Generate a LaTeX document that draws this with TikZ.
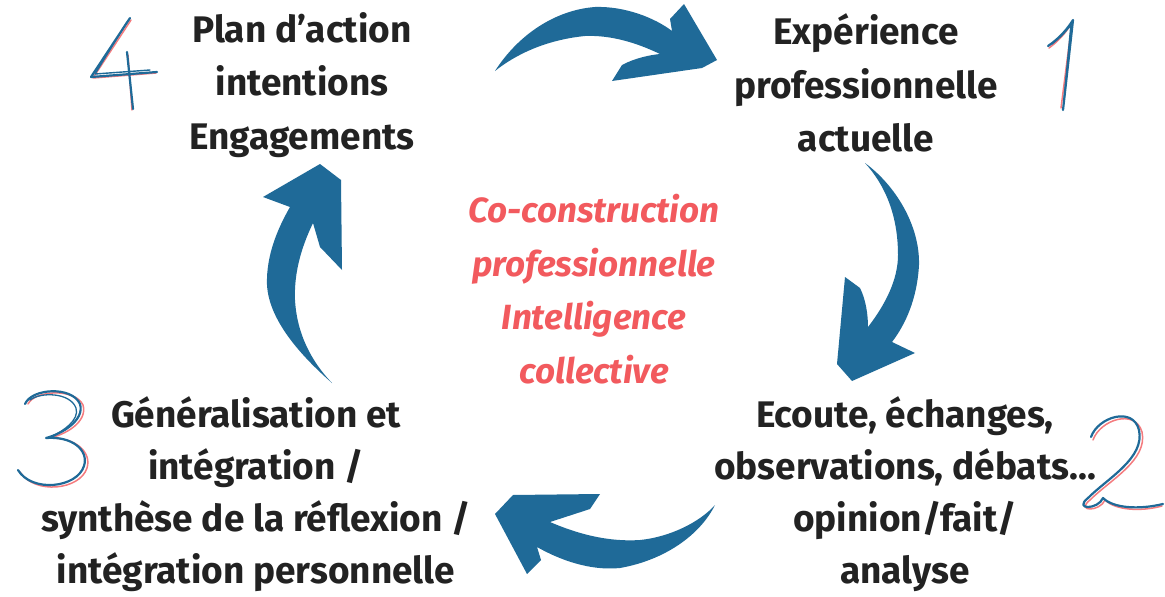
\documentclass[tikz,border=0pt]{standalone}
\usepackage{fontspec}
\setmainfont{Fira Sans}
\definecolor{bleu}{HTML}{1F6A98}
\definecolor{rouge}{HTML}{F25A5E}
\definecolor{encre}{HTML}{222222}
\tikzset{
  etape/.style={align=center,text=encre,font=\fontsize{37}{53.5}\selectfont\bfseries},
  bas/.style={etape,font=\fontsize{37}{52}\selectfont\bfseries},
  centre/.style={align=center,text=rouge,font=\fontsize{35}{53.5}\selectfont\bfseries\itshape},
  fleche/.style={fill=bleu,draw=none},
  chiffreb/.style={draw=bleu,line width=2.2pt,line cap=round,line join=round},
  chiffrer/.style={draw=rouge,line width=1.5pt,line cap=round,line join=round,opacity=.8}
}
\begin{document}
\begin{tikzpicture}[x=1pt,y=-1pt]
\useasboundingbox[fill=white] (0,0) rectangle (1165,597);

\node[etape] (plan) at (302,85) {Plan d’action\\intentions\\Engagements};
\node[etape] (exp) at (866,83) {Expérience\\professionnelle\\actuelle};
\node[bas] (ecoute) at (905,494) {Ecoute, échanges,\\observations, débats...\\opinion/fait/\\analyse};
\node[bas] (gene) at (256,494) {Généralisation et\\intégration /\\synthèse de la réflexion /\\intégration personnelle};
\node[centre] (coco) at (594,289) {Co-construction\\professionnelle\\Intelligence\\collective};

% fleche haut
\fill[fleche] (495,71) .. controls (518,35) and (555,10) .. (595,7)
  .. controls (625,6) and (655,18) .. (672,31) -- (670,19) -- (684,4)
  -- (717,60) -- (702,68) -- (612,81) -- (622,65)
  .. controls (635,58) and (650,55) .. (660,54)
  .. controls (635,42) and (610,35) .. (585,36)
  .. controls (545,40) and (515,55) .. cycle;
% fleche droite
\fill[fleche] (865,163) .. controls (895,185) and (920,225) .. (919,265)
  .. controls (917,300) and (905,325) .. (892,342) -- (915,353)
  -- (852,381) -- (837,364) -- (845,277) -- (860,288)
  .. controls (866,300) and (868,315) .. (868,327)
  .. controls (885,305) and (898,280) .. (898,255)
  .. controls (898,215) and (885,185) .. cycle;
% fleche bas
\fill[fleche] (715,505) .. controls (700,535) and (665,560) .. (620,568)
  .. controls (590,571) and (560,560) .. (537,547) -- (541,560)
  -- (527,574) -- (495,514) -- (513,495) -- (600,494) -- (590,509)
  -- (550,522) .. controls (580,535) and (610,542) .. (640,540)
  .. controls (670,537) and (700,522) .. cycle;
% fleche gauche
\fill[fleche] (332,383) .. controls (300,355) and (269,320) .. (267,285)
  .. controls (266,255) and (278,228) .. (290,207) -- (263,197)
  -- (320,164) -- (341,180) -- (342,270) -- (320,247) -- (313,223)
  .. controls (300,250) and (294,275) .. (295,300)
  .. controls (297,335) and (312,362) .. cycle;

% 4
\draw[chiffrer] (131,20) -- (93,78) -- (156,73) (128,55) -- (132,110);
\draw[chiffreb] (130,18) -- (91,77) -- (157,72) (127,52) -- (133,109);
\draw[chiffreb,line width=1.4pt] (127,22) -- (95,74) -- (150,70);
% 1
\draw[chiffrer] (1049,48) .. controls (1060,40) and (1068,30) .. (1072,22) -- (1061,108);
\draw[chiffreb] (1048,46) .. controls (1060,38) and (1068,28) .. (1073,20) -- (1063,110);
\draw[chiffreb,line width=1.4pt] (1052,44) .. controls (1062,36) and (1069,28) .. (1071,24) -- (1064,100);
% 3
\draw[chiffrer] (28,404) .. controls (35,390) and (75,388) .. (83,405)
  .. controls (88,422) and (65,435) .. (49,438)
  .. controls (75,437) and (92,452) .. (87,468)
  .. controls (80,490) and (35,495) .. (20,472);
\draw[chiffreb] (25,404) .. controls (32,388) and (72,386) .. (80,404)
  .. controls (85,420) and (62,434) .. (46,438)
  .. controls (72,436) and (89,450) .. (84,466)
  .. controls (77,488) and (32,493) .. (18,470);
\draw[chiffreb,line width=1.3pt] (30,400) .. controls (40,392) and (70,392) .. (76,408)
  .. controls (80,420) and (62,432) .. (52,436);
% 2
\draw[chiffrer] (1093,440) .. controls (1100,420) and (1135,408) .. (1142,432)
  .. controls (1148,460) and (1110,480) .. (1090,500)
  .. controls (1075,512) and (1100,512) .. (1105,500)
  .. controls (1115,510) and (1140,512) .. (1162,506);
\draw[chiffreb] (1091,437) .. controls (1098,417) and (1133,406) .. (1139,430)
  .. controls (1145,458) and (1108,478) .. (1088,498)
  .. controls (1073,510) and (1098,510) .. (1103,498)
  .. controls (1113,508) and (1138,510) .. (1163,504);
\end{tikzpicture}
\end{document}
